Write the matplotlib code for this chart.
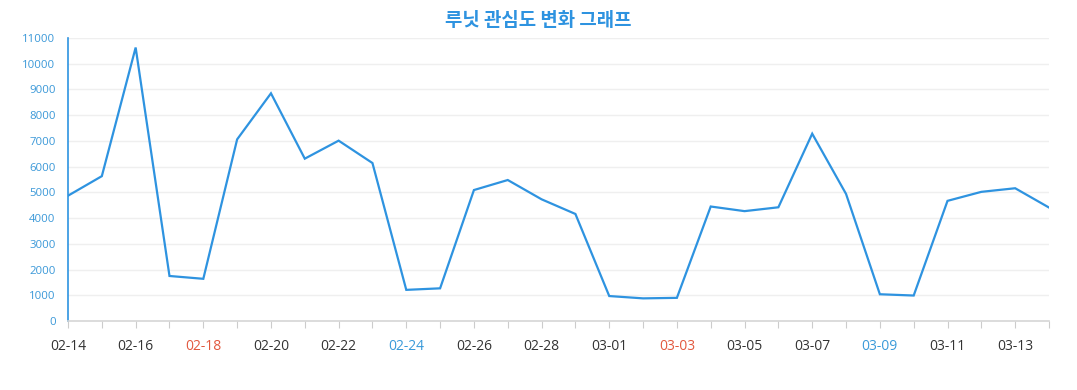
import matplotlib
matplotlib.use("Agg")
import matplotlib.pyplot as plt

title = "루닛 관심도 변화 그래프"
dates = ["02-14", "02-15", "02-16", "02-17", "02-18", "02-19", "02-20", "02-21",
         "02-22", "02-23", "02-24", "02-25", "02-26", "02-27", "02-28", "02-29",
         "03-01", "03-02", "03-03", "03-04", "03-05", "03-06", "03-07", "03-08",
         "03-09", "03-10", "03-11", "03-12", "03-13", "03-14"]
values = [4870, 5630, 10630, 1750, 1640, 7060, 8850, 6310,
          7010, 6140, 1210, 1270, 5090, 5480, 4730, 4160,
          970, 880, 900, 4450, 4270, 4420, 7280, 4940,
          1040, 990, 4670, 5020, 5160, 4410]
red_dates = ["02-18", "03-03"]
blue_dates = ["02-24", "03-09"]
yticks = list(range(0, 11001, 1000))

plt.rcParams['font.family'] = ['Open Sans', 'Noto Sans CJK KR', 'DejaVu Sans']

fig = plt.figure(figsize=(10.77, 3.90), dpi=100)
ax = fig.add_axes([68/1077, 69/390, (1049-68)/1077, (321-38)/390])

x = list(range(len(dates)))
ax.plot(x, values, color="#2e93e0", lw=1.6, solid_joinstyle="miter", zorder=3)

ax.set_xlim(0, len(dates) - 1)
ax.set_ylim(0, 11000)
ax.set_yticks(yticks)
ax.set_yticklabels([str(v) for v in yticks])
ax.yaxis.grid(True, color="#efefef", lw=1)
ax.set_axisbelow(True)

ax.set_xticks(x, minor=False)
ax.set_xticklabels([d if i % 2 == 0 else "" for i, d in enumerate(dates)])
for lbl, d in zip(ax.get_xticklabels(), dates):
    if d in red_dates:
        lbl.set_color("#e2583e")
    elif d in blue_dates:
        lbl.set_color("#3a9ad9")
    else:
        lbl.set_color("#333333")

ax.tick_params(axis="x", length=5, color="#cccccc", labelsize=10, pad=8)
ax.tick_params(axis="y", length=0, labelsize=8.2, labelcolor="#3a98d8", pad=9)

for s in ["top", "right"]:
    ax.spines[s].set_visible(False)
ax.spines["left"].set_color("#2e93e0")
ax.spines["left"].set_linewidth(1.2)
ax.spines["bottom"].set_color("#d6d6d6")
ax.spines["bottom"].set_linewidth(1.2)

fig.text(0.5, 1 - 20/390, title, ha="center", va="center", fontsize=13.6,
         fontweight="bold", color="#2e93e0",
         family=["Noto Sans CJK KR", "DejaVu Sans"])

fig.savefig("out.png", dpi=100)
